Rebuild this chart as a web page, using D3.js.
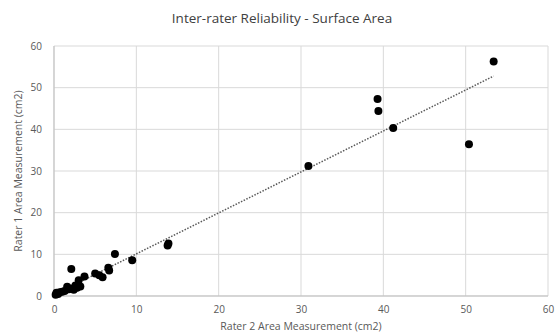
<!DOCTYPE html>
<html>
<head>
<meta charset="utf-8">
<script src="https://cdn.jsdelivr.net/npm/d3@7"></script>
<style>
  body { margin: 0; background: #fff; }
  svg { font-family: "Open Sans", "Liberation Sans", sans-serif; }
</style>
</head>
<body>
<div id="chart"></div>
<script>
// Rater 2 (x) vs Rater 1 (y), cm2
const rater2 = [0.2, 0.3, 0.5, 0.7, 1.0, 1.3, 1.6, 1.8, 2.2, 2.4, 2.6, 2.8, 3.0, 3.2, 2.1, 3.7,
  5.0, 5.5, 5.9, 6.6, 6.7, 7.4, 9.5, 13.8, 13.9, 30.9, 39.3, 39.4, 41.2, 50.4, 53.4];
const rater1 = [0.3, 0.8, 0.5, 0.9, 1.0, 1.2, 2.2, 1.6, 1.8, 1.5, 2.5, 2.0, 3.8, 2.3, 6.5, 4.7,
  5.4, 5.0, 4.5, 6.8, 6.1, 10.1, 8.6, 12.1, 12.6, 31.2, 47.3, 44.4, 40.3, 36.4, 56.3];
const xTicks = [0, 10, 20, 30, 40, 50, 60];
const yTicks = [0, 10, 20, 30, 40, 50, 60];

const width = 556, height = 336;
const margin = { top: 46, right: 8, bottom: 40, left: 54 };

const svg = d3.select('#chart').append('svg')
  .attr('width', width)
  .attr('height', height);

const x = d3.scaleLinear().domain([0, 60]).range([margin.left, width - margin.right]);
const y = d3.scaleLinear().domain([0, 60]).range([height - margin.bottom, margin.top]);

// gridlines
svg.append('g')
  .selectAll('line.vgrid')
  .data(xTicks)
  .enter().append('line')
  .attr('x1', d => x(d)).attr('x2', d => x(d))
  .attr('y1', y(0)).attr('y2', y(60))
  .attr('stroke', '#d9d9d9').attr('stroke-width', 1);

svg.append('g')
  .selectAll('line.hgrid')
  .data(yTicks)
  .enter().append('line')
  .attr('x1', x(0)).attr('x2', x(60))
  .attr('y1', d => y(d)).attr('y2', d => y(d))
  .attr('stroke', '#d9d9d9').attr('stroke-width', 1);

// axis lines
svg.append('line')
  .attr('x1', x(0)).attr('x2', x(0)).attr('y1', y(0)).attr('y2', y(60))
  .attr('stroke', '#bfbfbf');
svg.append('line')
  .attr('x1', x(0)).attr('x2', x(60)).attr('y1', y(0)).attr('y2', y(0))
  .attr('stroke', '#bfbfbf');

// tick labels
const xAxis = svg.append('g')
  .attr('transform', `translate(0,${y(0)})`)
  .call(d3.axisBottom(x).tickValues(xTicks).tickSize(0).tickPadding(10));
const yAxis = svg.append('g')
  .attr('transform', `translate(${x(0)},0)`)
  .call(d3.axisLeft(y).tickValues(yTicks).tickSize(0).tickPadding(12));
[xAxis, yAxis].forEach(a => {
  a.select('.domain').remove();
  a.selectAll('text')
    .attr('fill', '#595959')
    .style('font-size', '10px')
    .style('font-family', '"Open Sans", sans-serif');
});

// trendline (least squares)
const n = rater2.length;
const mx = d3.mean(rater2), my = d3.mean(rater1);
let sxy = 0, sxx = 0;
for (let i = 0; i < n; i++) {
  sxy += (rater2[i] - mx) * (rater1[i] - my);
  sxx += (rater2[i] - mx) ** 2;
}
const slope = sxy / sxx;
const intercept = my - slope * mx;
const [xmin, xmax] = d3.extent(rater2);

svg.append('line')
  .attr('x1', x(xmin)).attr('y1', y(slope * xmin + intercept))
  .attr('x2', x(xmax)).attr('y2', y(slope * xmax + intercept))
  .attr('stroke', '#595959')
  .attr('stroke-width', 1.5)
  .attr('stroke-dasharray', '1.5,1.5');

// points
svg.append('g')
  .selectAll('circle')
  .data(rater2.map((d, i) => [d, rater1[i]]))
  .enter().append('circle')
  .attr('cx', d => x(d[0]))
  .attr('cy', d => y(d[1]))
  .attr('r', 4)
  .attr('fill', '#000');

// title
svg.append('text')
  .attr('x', 282).attr('y', 23)
  .attr('text-anchor', 'middle')
  .attr('fill', '#404040')
  .style('font-size', '13.5px')
  .text('Inter-rater Reliability - Surface Area');

// axis titles
svg.append('text')
  .attr('x', (x(0) + x(60)) / 2).attr('y', 330)
  .attr('text-anchor', 'middle')
  .attr('fill', '#595959')
  .style('font-size', '10.5px')
  .text('Rater 2 Area Measurement (cm2)');

svg.append('text')
  .attr('transform', `translate(22,${(y(0) + y(60)) / 2}) rotate(-90)`)
  .attr('text-anchor', 'middle')
  .attr('fill', '#595959')
  .style('font-size', '10.5px')
  .text('Rater 1 Area Measurement (cm2)');
</script>
</body>
</html>
